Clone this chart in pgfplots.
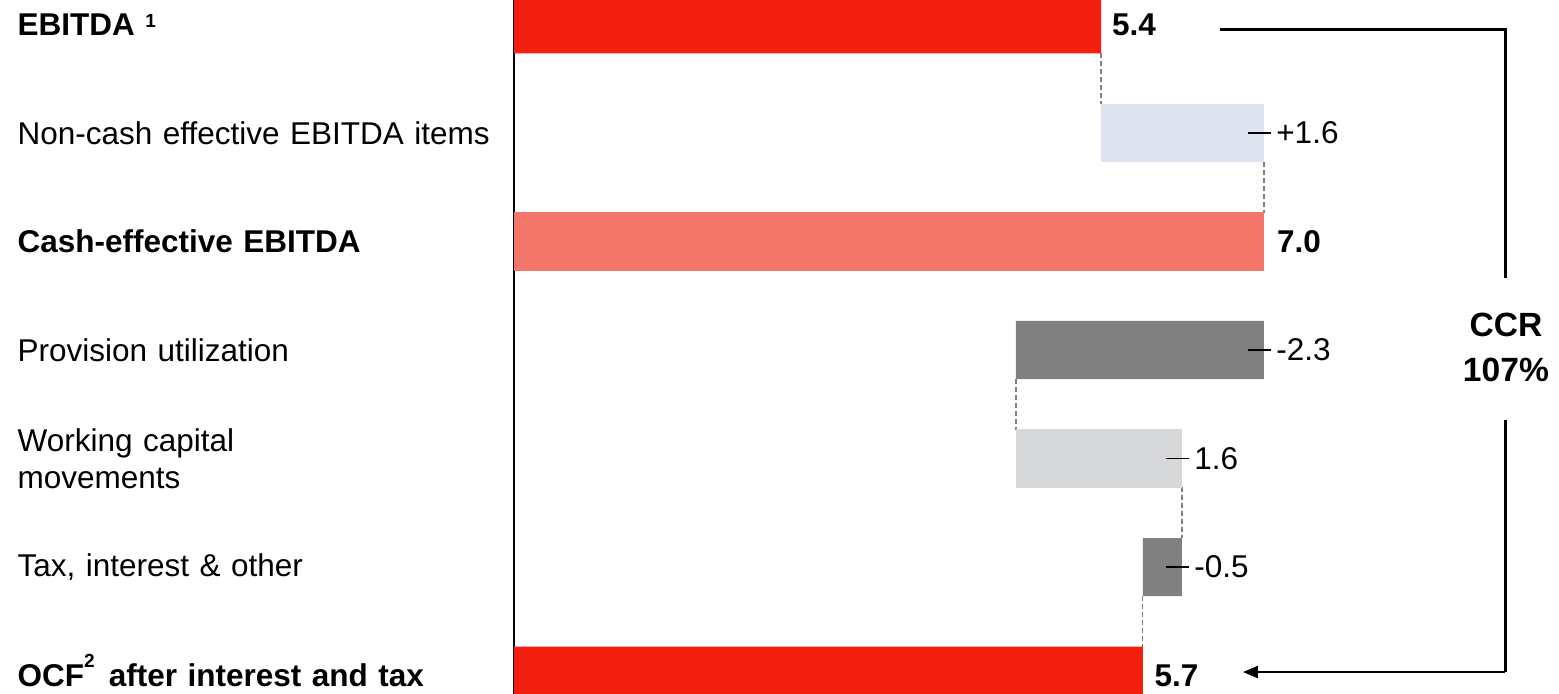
\documentclass[border=0pt]{standalone}
\usepackage{fontspec}
\setmainfont{Liberation Sans}
\usepackage{pgfplots}
\pgfplotsset{compat=1.18}
\usetikzlibrary{arrows.meta}
\definecolor{cRed}{RGB}{242,30,14}
\definecolor{cSalmon}{RGB}{244,118,107}
\definecolor{cBlue}{RGB}{222,228,239}
\definecolor{cDark}{RGB}{128,128,128}
\definecolor{cLight}{RGB}{215,216,218}
\tikzset{conn/.style={cDark, line width=0.6pt, dash pattern=on 2.5pt off 1.5pt},
  lead/.style={black, line width=0.75pt},
  vlab/.style={anchor=west, inner sep=0pt, font=\fontsize{15.75}{18}\selectfont},
  blab/.style={anchor=west, inner sep=0pt, font=\bfseries\fontsize{15.75}{18}\selectfont}}
\begin{document}
\begin{tikzpicture}
\begin{axis}[
  scale only axis, width=522.5pt, height=347pt,
  xmin=0, xmax=9.754, ymin=-0.2258, ymax=6.1705, y dir=reverse,
  xbar stacked, bar width=29pt,
  axis x line=none, axis y line*=left,
  y axis line style={-, line width=1pt, black},
  xtick=\empty,
  ytick={0,1,2,3,4,5,6},
  ytick style={draw=none},
  yticklabels={
    {\textbf{EBITDA}\ \smash{\raisebox{3.8pt}{\fontsize{9.5}{9.5}\selectfont\textbf{1}}}},
    {Non-cash effective EBITDA items},
    {\textbf{Cash-effective EBITDA}},
    {Provision utilization},
    {Working capital\\movements},
    {Tax, interest \& other},
    {\textbf{OCF}\smash{\raisebox{9.5pt}{\fontsize{9.5}{9.5}\selectfont\textbf{2}}}\hspace{0.45em}\textbf{after interest and tax}}
  },
  yticklabel style={text width=248pt, align=left, inner sep=0pt, anchor=east,
    font=\fontsize{15.75}{18.5}\selectfont},
]
% invisible base
\addplot[draw=none, fill=none] coordinates {(0,0) (5.48,1) (0,2) (4.685,3) (4.685,4) (5.87,5) (0,6)};
% red totals
\addplot[draw=none, fill=cRed] coordinates {(5.48,0) (0,1) (0,2) (0,3) (0,4) (0,5) (5.87,6)};
% non-cash items
\addplot[draw=none, fill=cBlue] coordinates {(0,0) (1.52,1) (0,2) (0,3) (0,4) (0,5) (0,6)};
% cash-effective EBITDA
\addplot[draw=none, fill=cSalmon] coordinates {(0,0) (0,1) (7.0,2) (0,3) (0,4) (0,5) (0,6)};
% provision, tax
\addplot[draw=none, fill=cDark] coordinates {(0,0) (0,1) (0,2) (2.315,3) (0,4) (0.365,5) (0,6)};
% working capital
\addplot[draw=none, fill=cLight] coordinates {(0,0) (0,1) (0,2) (0,3) (1.55,4) (0,5) (0,6)};

\draw[conn] (axis cs:5.48,0.267) -- (axis cs:5.48,0.733);
\draw[conn] (axis cs:7.0,1.267) -- (axis cs:7.0,1.733);
\draw[conn] (axis cs:4.685,3.267) -- (axis cs:4.685,3.733);
\draw[conn] (axis cs:6.235,4.267) -- (axis cs:6.235,4.733);
\draw[conn] (axis cs:5.87,5.267) -- (axis cs:5.87,5.733);

\coordinate (L1a) at (axis cs:6.85,1); \coordinate (L1b) at (axis cs:7.065,1);
\coordinate (L3a) at (axis cs:6.85,3); \coordinate (L3b) at (axis cs:7.065,3);
\coordinate (L4a) at (axis cs:6.085,4); \coordinate (L4b) at (axis cs:6.30,4);
\coordinate (L5a) at (axis cs:6.085,5); \coordinate (L5b) at (axis cs:6.30,5);

\node[blab] at (axis cs:5.58,0) {5.4};
\node[vlab] at (axis cs:7.112,1) {+1.6};
\node[blab] at (axis cs:7.12,2) {7.0};
\node[vlab] at (axis cs:7.112,3) {-2.3};
\node[vlab] at (axis cs:6.347,4) {1.6};
\node[vlab] at (axis cs:6.347,5) {-0.5};
\node[blab] at (axis cs:5.975,6) {5.7};

\draw[line width=1.5pt, line join=miter] (axis cs:6.59,0.0415) -- (axis cs:9.25,0.0415) -- (axis cs:9.25,2.336);
\draw[line width=1.5pt] (axis cs:9.25,3.645) -- (axis cs:9.25,5.968);
\draw[line width=1pt, -{Triangle[length=7.5pt,width=6pt]}] (axis cs:9.25,5.968) -- (axis cs:6.804,5.968);
\node[align=center, inner sep=0pt, font=\bfseries\fontsize{16.8}{22.5}\selectfont] at (axis cs:9.259,2.977) {CCR\\107\%};

\coordinate (BBa) at (axis cs:0,-0.2258);
\coordinate (BBb) at (axis cs:9.754,6.1705);
\end{axis}
\draw[lead] (L1a) -- (L1b);
\draw[lead] (L3a) -- (L3b);
\draw[lead] (L4a) -- (L4b);
\draw[lead] (L5a) -- (L5b);
\pgfresetboundingbox
\path[use as bounding box] ([xshift=-257pt]BBa) rectangle (BBb);
\end{tikzpicture}
\end{document}
